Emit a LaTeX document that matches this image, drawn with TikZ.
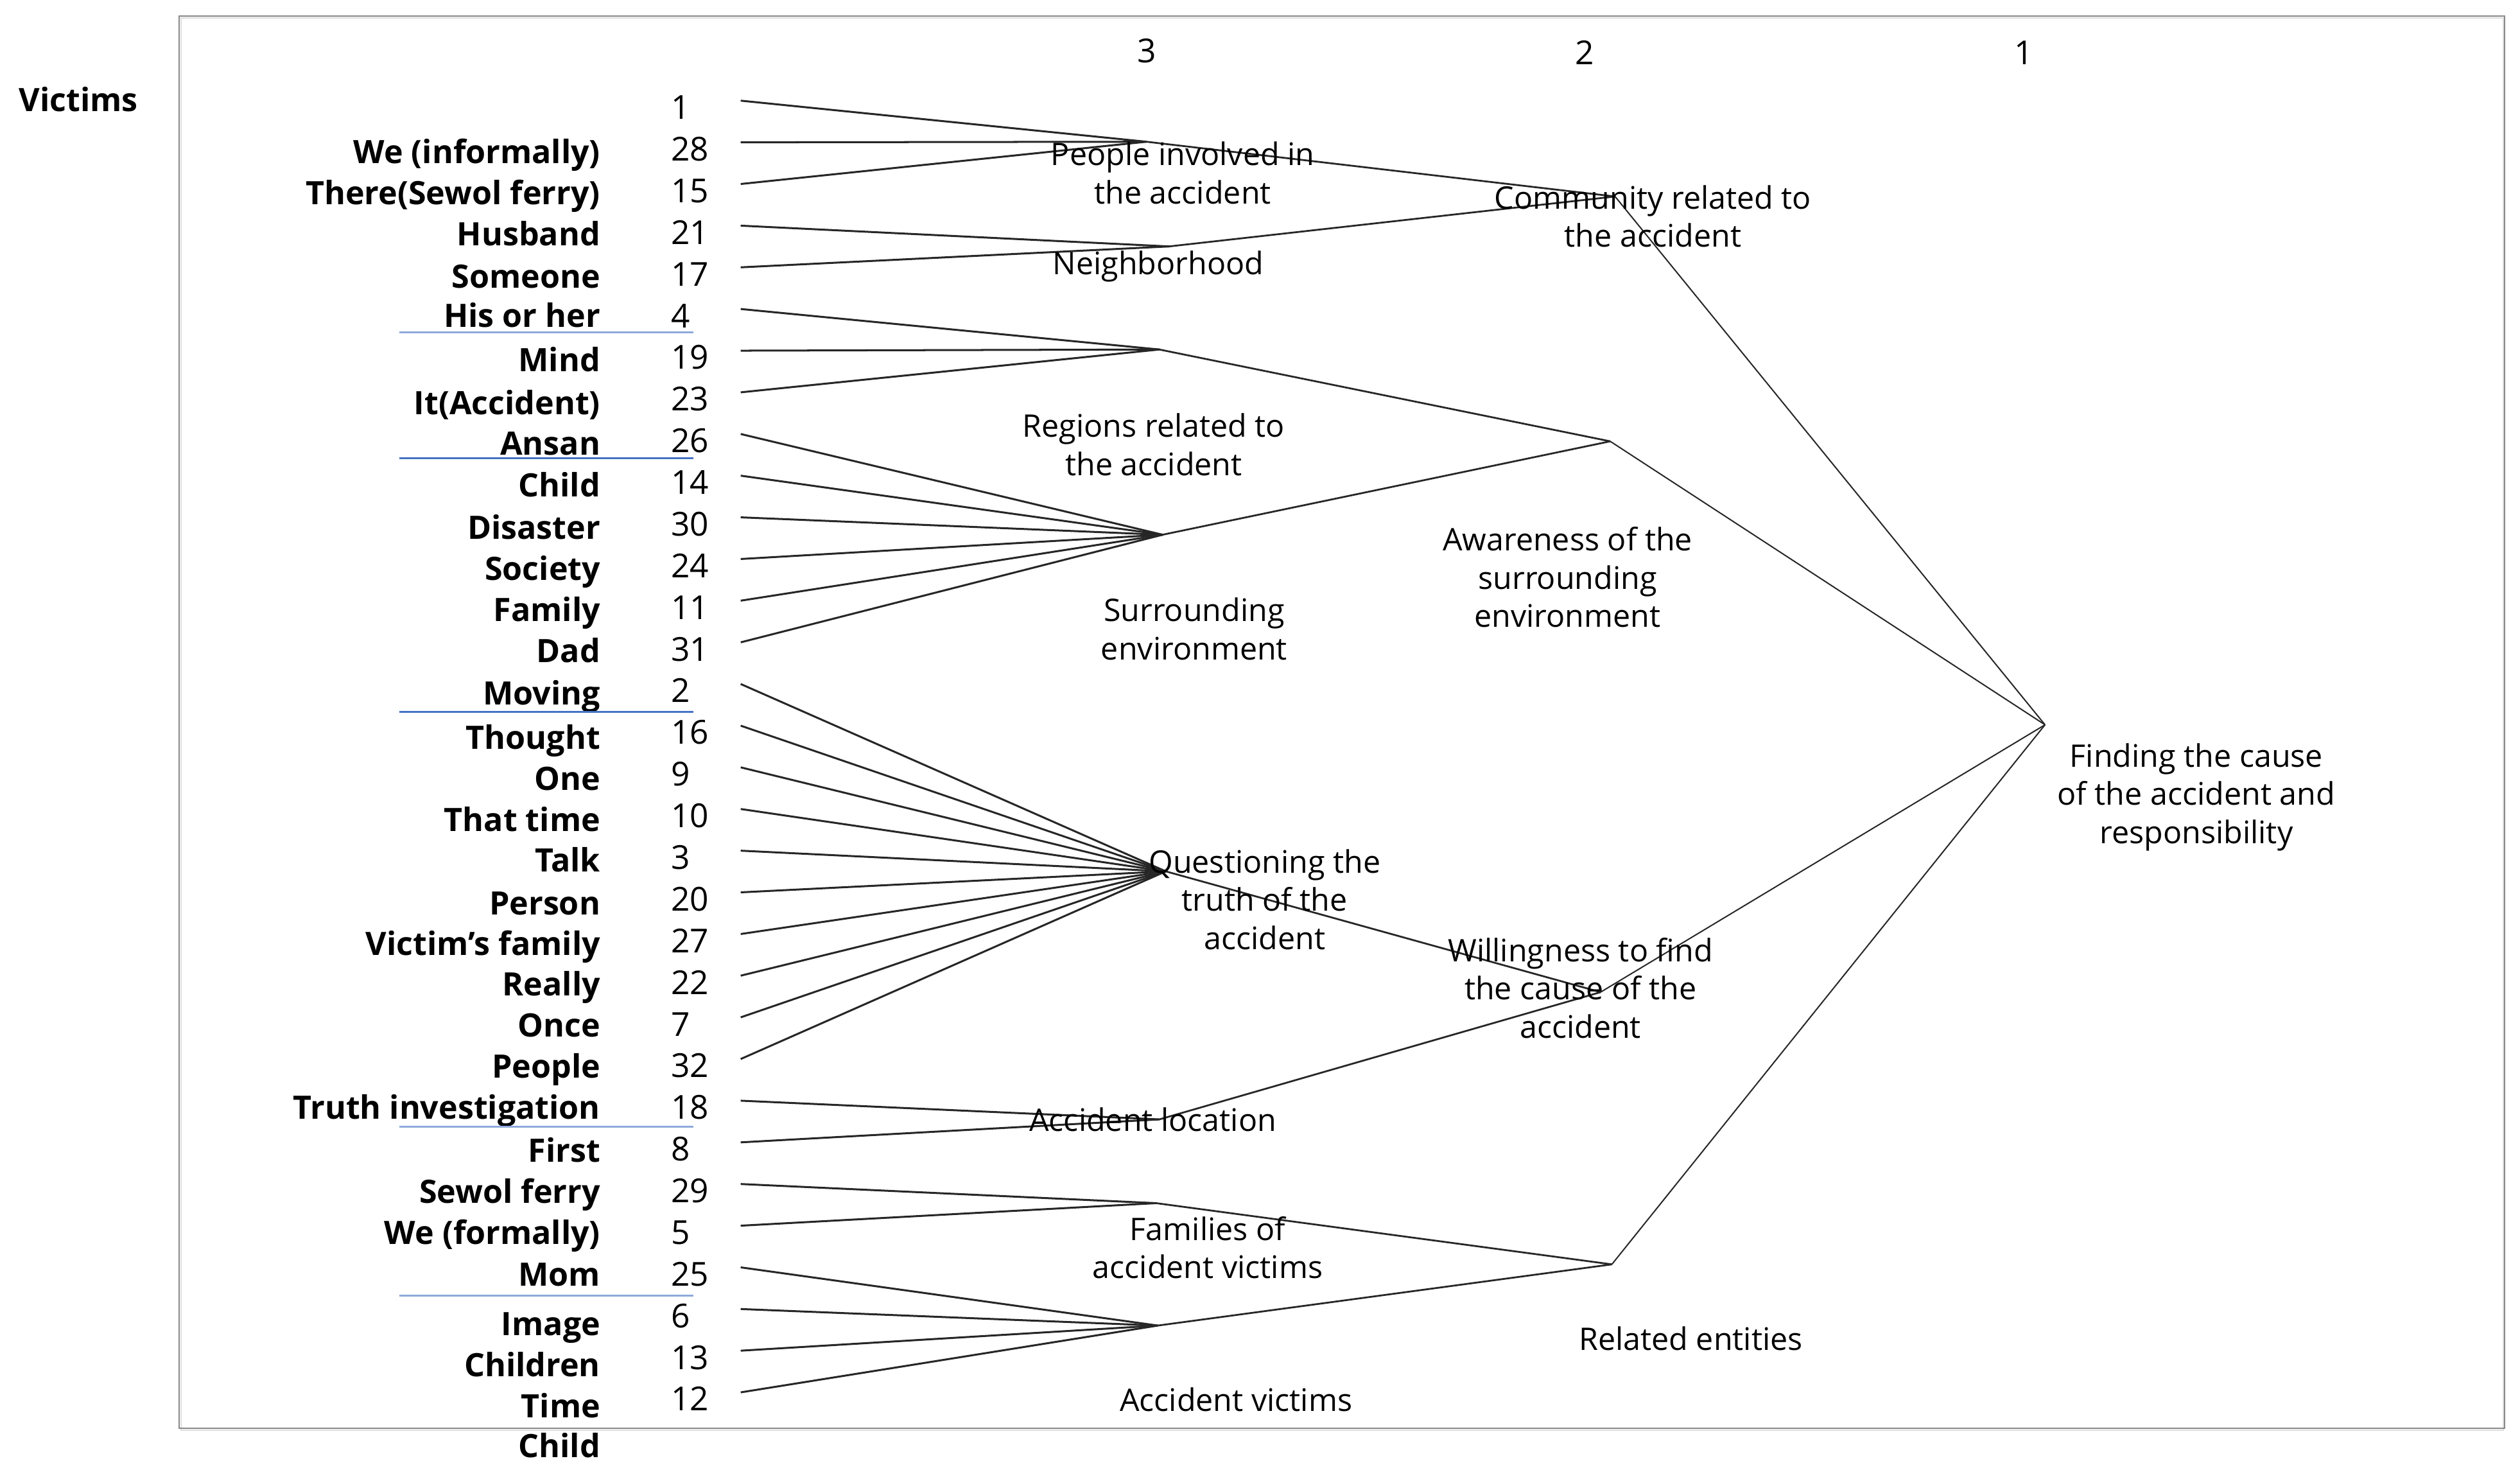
\documentclass[tikz,border=0pt]{standalone}
\usepackage{fontspec}
\setmainfont{Open Sans}
\definecolor{bluelight}{HTML}{8EAADB}
\definecolor{bluemid}{HTML}{4472C4}
\definecolor{framegray}{HTML}{888888}
\definecolor{frameshade}{HTML}{DDDDDD}
\definecolor{linegray}{HTML}{262626}
\begin{document}
\begin{tikzpicture}[x=1pt,y=-1pt,
  lbl/.style={font=\bfseries\fontsize{20}{24}\selectfont, anchor=base east, inner sep=0pt},
  num/.style={font=\fontsize{20.5}{24}\selectfont, anchor=base west, inner sep=0pt},
  hdr/.style={font=\fontsize{20.5}{24}\selectfont, anchor=base, inner sep=0pt},
  clab/.style={font=\fontsize{19.3}{23.7}\selectfont, align=center, anchor=base, inner sep=0pt},
  leaf/.style={line width=1.2pt, draw=linegray},
  mid/.style={line width=1.1pt, draw=linegray},
  top/.style={line width=0.8pt, draw=linegray},
  sep/.style={line width=1.2pt}]
% canvas
\path[fill=white] (0,0) rectangle (1565,912.3);
% frame
\draw[frameshade, line width=0.8pt] (112.3,11) rectangle (1554.6,887.8);
\draw[framegray, line width=0.8pt] (111.3,10) rectangle (1555.6,886.8);
% headers
\node[hdr] (h3) at (712,39) {3};
\node[hdr] (h2) at (984,40) {2};
\node[hdr] (h1) at (1257,40) {1};
% Victims title
\node[font=\bfseries\fontsize{20}{24}\selectfont, anchor=base west, inner sep=0pt] (victims) at (11.6,69) {Victims};
% numbers and leaf start points
\foreach \n [count=\i from 0] in {1,28,15,21,17,4,19,23,26,14,30,24,11,31,2,16,9,10,3,20,27,22,7,32,18,8,29,5,25,6,13,12} {
  \node[num] (n\n) at (416.5,{66.5+25.87*\i+7.5}) {\n};
  \coordinate (s\n) at (460,{62.5+25.87*\i});
}
% word labels
\foreach \t/\yy [count=\k] in {We (informally)/94.6, There(Sewol ferry)/120, Husband/145.5, Someone/171.9, His or her/196.3, Mind/223.8, It(Accident)/250.2, Ansan/275.6, Child/301.3, Disaster/327.9, Society/353.4, Family/378.8, Dad/404.2, Moving/430.6, Thought/458.1, One/483.6, That time/509, Talk/534.3, Person/560.8, Victim’s family/586, Really/611.2, Once/636.8, People/662.3, Truth investigation/687.8, First/714.5, Sewol ferry/740, We (formally)/765.6, Mom/791.3, Image/822.2, Children/847.7, Time/873.2, Child/897.8} {
  \node[lbl] (w\k) at (373,{\yy+7}) {\t};
}
% blue separators
\coordinate (b1a) at (248,206.5); \coordinate (b1b) at (430.8,206.5);
\coordinate (b2a) at (248,284.4); \coordinate (b2b) at (430.8,284.4);
\coordinate (b3a) at (248,441.8); \coordinate (b3b) at (430.8,441.8);
\coordinate (b4a) at (248,699.6); \coordinate (b4b) at (430.8,699.6);
\coordinate (b5a) at (248,804.5); \coordinate (b5b) at (430.8,804.5);
\draw[sep, bluelight] (b1a) -- (b1b);
\draw[sep, bluemid] (b2a) -- (b2b);
\draw[sep, bluemid] (b3a) -- (b3b);
\draw[sep, bluelight] (b4a) -- (b4b);
\draw[sep, bluelight] (b5a) -- (b5b);
% junctions
\coordinate (jPeople) at (712,88);
\coordinate (jNeigh) at (726,153);
\coordinate (jRegion) at (720,217);
\coordinate (jSurr) at (722,332);
\coordinate (jQuest) at (724,541);
\coordinate (jLoc) at (720,695);
\coordinate (jFam) at (718,747);
\coordinate (jVict) at (719,823);
\coordinate (jComm) at (1003,122);
\coordinate (jAware) at (1000,274);
\coordinate (jWill) at (994,616);
\coordinate (jRel) at (1001,785);
\coordinate (jFind) at (1270,450);
% leaf connectors
\foreach \n in {1,28,15} \draw[leaf] (s\n) -- (jPeople);
\foreach \n in {21,17} \draw[leaf] (s\n) -- (jNeigh);
\foreach \n in {4,19,23} \draw[leaf] (s\n) -- (jRegion);
\foreach \n in {26,14,30,24,11,31} \draw[leaf] (s\n) -- (jSurr);
\foreach \n in {2,16,9,10,3,20,27,22,7,32} \draw[leaf] (s\n) -- (jQuest);
\foreach \n in {18,8} \draw[leaf] (s\n) -- (jLoc);
\foreach \n in {29,5} \draw[leaf] (s\n) -- (jFam);
\foreach \n in {25,6,13,12} \draw[leaf] (s\n) -- (jVict);
% level 3 -> 2
\draw[mid] (jPeople) -- (jComm);
\draw[mid] (jNeigh) -- (jComm);
\draw[mid] (jRegion) -- (jAware);
\draw[mid] (jSurr) -- (jAware);
\draw[mid] (jQuest) -- (jWill);
\draw[mid] (jLoc) -- (jWill);
\draw[mid] (jFam) -- (jRel);
\draw[mid] (jVict) -- (jRel);
% level 2 -> 1
\draw[top] (jComm) -- (jFind);
\draw[top] (jAware) -- (jFind);
\draw[top] (jWill) -- (jFind);
\draw[top] (jRel) -- (jFind);
% cluster labels (base anchor = baseline of last line)
\node[clab] (cPeople) at (734.5,126.4) {People involved in\\the accident};
\node[clab] (cNeigh) at (719.3,170.5) {Neighborhood};
\node[clab] (cRegion) at (716.5,295.2) {Regions related to\\the accident};
\node[clab] (cSurr) at (741.6,409.5) {Surrounding\\environment};
\node[clab] (cQuest) at (785.4,589.4) {Questioning the\\truth of the\\accident};
\node[clab] (cLoc) at (716,702.4) {Accident location};
\node[clab] (cFam) at (750,793.7) {Families of\\accident victims};
\node[clab] (cVict) at (767.6,876) {Accident victims};
\node[clab] (cComm) at (1026.5,153.5) {Community related to\\the accident};
\node[clab] (cAware) at (973.5,389.4) {Awareness of the\\surrounding\\environment};
\node[clab] (cWill) at (981.5,644.4) {Willingness to find\\the cause of the\\accident};
\node[clab] (cRel) at (1050,838.5) {Related entities};
\node[clab] (cFind) at (1364,523.6) {Finding the cause\\of the accident and\\responsibility};
\end{tikzpicture}
\end{document}
